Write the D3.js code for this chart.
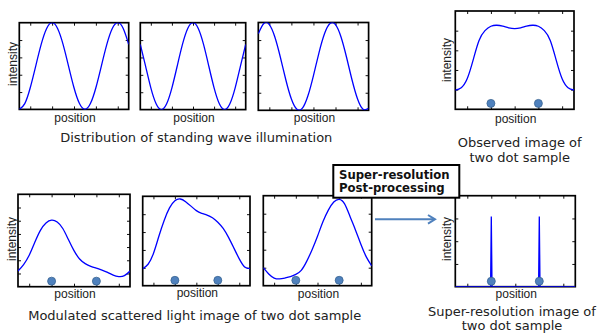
<!DOCTYPE html>
<html><head><meta charset="utf-8">
<script src="https://cdn.jsdelivr.net/npm/d3@7"></script>
<style>body{margin:0;background:#fff}svg{display:block}</style>
</head><body>
<svg id="c" width="601" height="333"></svg>
<script>
// ---------- data ----------
const positions = [0,0.05,0.1,0.15,0.2,0.25,0.3,0.35,0.4,0.45,0.5,0.55,0.6,0.65,0.7,0.75,0.8,0.85,0.9,0.95,1];
const wave1 = [0,0.067,0.25,0.5,0.75,0.933,1,0.933,0.75,0.5,0.25,0.067,0,0.067,0.25,0.5,0.75,0.933,1,0.933,0.75];
const wave2 = [0.75,0.5,0.25,0.067,0,0.067,0.25,0.5,0.75,0.933,1,0.933,0.75,0.5,0.25,0.067,0,0.067,0.25,0.5,0.75];
const wave3 = [0.872,0.989,0.976,0.835,0.604,0.345,0.128,0.011,0.024,0.165,0.396,0.655,0.872,0.989,0.976,0.835,0.604,0.345,0.128,0.011,0.024];
const observed = [0.196,0.22,0.31,0.5,0.7,0.8,0.845,0.855,0.845,0.828,0.82,0.828,0.845,0.855,0.845,0.8,0.7,0.5,0.31,0.22,0.196];
const modulated1 = [0.17,0.24,0.34,0.48,0.61,0.69,0.72,0.70,0.63,0.51,0.39,0.30,0.25,0.22,0.20,0.18,0.155,0.125,0.11,0.12,0.17];
const modulated2 = [0.19,0.24,0.36,0.55,0.73,0.87,0.95,0.97,0.94,0.89,0.84,0.81,0.79,0.76,0.71,0.64,0.54,0.42,0.30,0.21,0.19];
const modulated3 = [0.20,0.13,0.085,0.075,0.085,0.10,0.125,0.17,0.27,0.40,0.55,0.71,0.84,0.93,0.96,0.91,0.77,0.62,0.46,0.32,0.22];
const spikeX = [0,0.294,0.3,0.306,0.694,0.7,0.706,1];
const spikeY = [0,0,0.77,0,0,0.77,0,0];
const dotPositions = [0.3,0.7];
const dotLevel = 0.06;
const xTicks = [0.1,0.3,0.5,0.7,0.9];
const yTicksWave = [0.2,0.4,0.6,0.8];
const yTicksModulated1 = [0.143,0.286,0.429,0.571,0.714,0.857];
const yTicksSuper = [0.25,0.5,0.75];
const xLabel = "position";
const yLabel = "intensity";
const captionWave = "Distribution of standing wave illumination";
const captionObserved = ["Observed image of","two dot sample"];
const captionModulated = "Modulated scattered light image of two dot sample";
const captionSuper = ["Super-resolution image of","two dot sample"];
const boxLines = ["Super-resolution","Post-processing"];

// ---------- drawing ----------
const svg = d3.select("#c");
const sans = "'Liberation Sans', Arial, sans-serif";
const dv = "'DejaVu Sans', Verdana, sans-serif";
const curveBlue = "#0000ff";
const dotFill = "#4f81bd", dotStroke = "#3a6592";

let clipId = 0;
function panel(cfg){
  const x = d3.scaleLinear().domain([0,1]).range([cfg.x0,cfg.x1]);
  const y = d3.scaleLinear().domain([0,1]).range([cfg.y1,cfg.y0]);
  const g = svg.append("g");
  const id = "clip" + (clipId++);
  g.append("clipPath").attr("id",id).append("rect")
    .attr("x",cfg.x0).attr("y",cfg.y0).attr("width",cfg.x1-cfg.x0).attr("height",cfg.y1-cfg.y0);
  const strip = s => s.call(a=>a.select(".domain").remove())
                      .call(a=>a.selectAll("line").attr("stroke","#111").attr("stroke-width",1));
  g.append("g").attr("transform",`translate(0,${cfg.y1})`)
    .call(d3.axisBottom(x).tickValues(xTicks).tickSize(-3).tickFormat("")).call(strip);
  g.append("g").attr("transform",`translate(0,${cfg.y0})`)
    .call(d3.axisTop(x).tickValues(xTicks).tickSize(-3).tickFormat("")).call(strip);
  g.append("g").attr("transform",`translate(${cfg.x0},0)`)
    .call(d3.axisLeft(y).tickValues(cfg.yTicks).tickSize(-3).tickFormat("")).call(strip);
  g.append("g").attr("transform",`translate(${cfg.x1},0)`)
    .call(d3.axisRight(y).tickValues(cfg.yTicks).tickSize(-3).tickFormat("")).call(strip);
  g.append("rect").attr("x",cfg.x0).attr("y",cfg.y0)
    .attr("width",cfg.x1-cfg.x0).attr("height",cfg.y1-cfg.y0)
    .attr("fill","none").attr("stroke","#000").attr("stroke-width",1.7);
  const pts = cfg.xs.map((v,i)=>[v,cfg.ys[i]]);
  const line = d3.line().x(d=>x(d[0])).y(d=>y(d[1])).curve(cfg.curve || d3.curveNatural);
  g.append("path").attr("d",line(pts)).attr("clip-path",`url(#${id})`)
    .attr("fill","none").attr("stroke",curveBlue).attr("stroke-width",1.3);
  if(cfg.dots){
    g.selectAll("circle.dot").data(dotPositions).join("circle").attr("class","dot")
      .attr("cx",d=>x(d)).attr("cy",y(dotLevel)).attr("r",4)
      .attr("fill",dotFill).attr("stroke",dotStroke).attr("stroke-width",0.8);
  }
  g.append("text").attr("x",(cfg.x0+cfg.x1)/2+1).attr("y",cfg.xlab)
    .attr("text-anchor","middle").attr("font-family",sans).attr("font-size",12)
    .attr("fill","#222").text(xLabel);
  if(cfg.ylab){
    g.append("text").attr("transform",`translate(${cfg.ylab[0]},${cfg.ylab[1]}) rotate(-90)`)
      .attr("text-anchor","middle").attr("font-family",sans).attr("font-size",12)
      .attr("fill","#222").text(yLabel);
  }
}

panel({x0:19.3,x1:128.7,y0:22.7,y1:109.4,xs:positions,ys:wave1,yTicks:yTicksWave,xlab:122,ylab:[16.8,64]});
panel({x0:140.3,x1:245.7,y0:22.7,y1:109.6,xs:positions,ys:wave2,yTicks:yTicksWave,xlab:122});
panel({x0:258.3,x1:368.6,y0:22.5,y1:110.3,xs:positions,ys:wave3,yTicks:yTicksWave,xlab:122});
panel({x0:455.3,x1:574,y0:11,y1:109.3,xs:positions,ys:observed,yTicks:yTicksWave,xlab:122.5,ylab:[450.5,60],dots:true});
panel({x0:18,x1:130,y0:194.3,y1:286.7,xs:positions,ys:modulated1,yTicks:yTicksModulated1,xlab:297.5,ylab:[16,239],dots:true});
panel({x0:142.7,x1:250,y0:196.3,y1:285.7,xs:positions,ys:modulated2,yTicks:yTicksWave,xlab:297,dots:true});
panel({x0:263.3,x1:371.7,y0:195.7,y1:285.7,xs:positions,ys:modulated3,yTicks:yTicksWave,xlab:297.5,dots:true});
panel({x0:455.3,x1:575.3,y0:195.7,y1:286.7,xs:spikeX,ys:spikeY,yTicks:yTicksSuper,xlab:297.5,ylab:[451,239],dots:true,curve:d3.curveLinear});

// captions
function caption(lines,cx,y0,dy){
  lines.forEach((t,i)=>svg.append("text").attr("x",cx).attr("y",y0+i*dy)
    .attr("text-anchor","middle").attr("font-family",dv).attr("font-size",13)
    .attr("fill","#222").text(t));
}
caption([captionWave],196.3,141.8,0);
caption(captionObserved,519.7,146.8,15.5);
caption([captionModulated],194.7,319.5,0);
caption(captionSuper,512,315.8,14.2);

// arrow
const arrowColor = "#4f81bd";
svg.append("line").attr("x1",375).attr("y1",219.3).attr("x2",434).attr("y2",219.3)
  .attr("stroke",arrowColor).attr("stroke-width",2);
svg.append("path").attr("d","M428,215 L435,219.3 L428,223.6")
  .attr("fill","none").attr("stroke",arrowColor).attr("stroke-width",2);

// box
svg.append("rect").attr("x",333.3).attr("y",165).attr("width",126).attr("height",32.7)
  .attr("fill","#fff").attr("stroke","#000").attr("stroke-width",2);
boxLines.forEach((t,i)=>svg.append("text").attr("x",339).attr("y",179+i*12.5)
  .attr("font-family",dv).attr("font-weight","bold").attr("font-size",11.7)
  .attr("fill","#111").text(t));
</script>
</body></html>
